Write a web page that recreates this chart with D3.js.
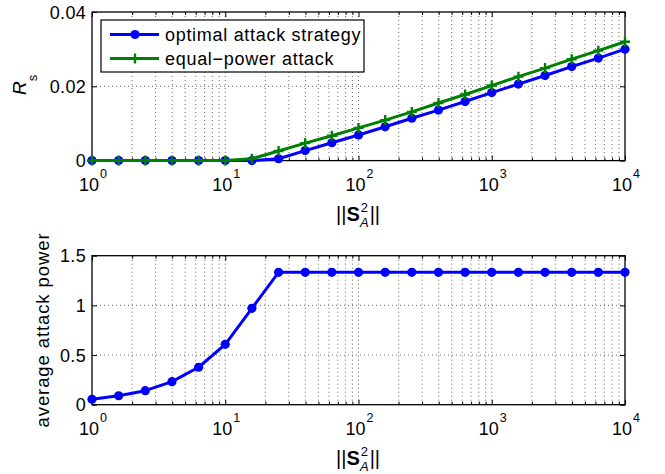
<!DOCTYPE html>
<html>
<head>
<meta charset="utf-8">
<script src="https://cdn.jsdelivr.net/npm/d3@7"></script>
<style>
  body { margin: 0; background: #fff; }
  svg { display: block; font-family: "Liberation Sans", Arial, Helvetica, sans-serif; }
</style>
</head>
<body>
<svg id="chart" width="665" height="474"></svg>
<script>
// ---- data ----
const xValues = [1, 1.585, 2.512, 3.981, 6.310, 10, 15.85, 25.12, 39.81, 63.10, 100,
                 158.5, 251.2, 398.1, 631.0, 1000, 1585, 2512, 3981, 6310, 10000];
const rsOptimal = [0, 0, 0, 0, 0, 0, 0, 0.0005, 0.0027, 0.0048, 0.0069,
                   0.0091, 0.0114, 0.0136, 0.0159, 0.0183, 0.0206, 0.0229, 0.0253, 0.0276, 0.0300];
const rsEqual   = [0, 0, 0, 0, 0, 0, 0.0005, 0.0026, 0.0047, 0.0067, 0.0088,
                   0.0109, 0.0131, 0.0155, 0.0178, 0.0202, 0.0226, 0.0249, 0.0273, 0.0296, 0.0320];
const avgPower  = [0.054, 0.090, 0.141, 0.232, 0.377, 0.608, 0.970, 1.333, 1.333, 1.333, 1.333,
                   1.333, 1.333, 1.333, 1.333, 1.333, 1.333, 1.333, 1.333, 1.333, 1.333];
const xDecades = [1, 10, 100, 1000, 10000];
const xDecadeExp = ["0", "1", "2", "3", "4"];
const rsTicks = [0, 0.02, 0.04];
const rsTickLabels = ["0", "0.02", "0.04"];
const powTicks = [0, 0.5, 1, 1.5];
const powTickLabels = ["0", "0.5", "1", "1.5"];
const legendLabels = ["optimal attack strategy", "equal\u2212power attack"];

const BLUE = "#0000ff", GREEN = "#008000";
const svg = d3.select("#chart");

const left = 92, right = 625;
const x = d3.scaleLog().domain([1, 10000]).range([left, right]);
const minorTicks = [];
for (let d = 1; d < 10000; d *= 10) for (let m = 2; m <= 9; m++) minorTicks.push(d * m);

function panel(top, bottom, yDomain, yTicks, yTickLabels) {
  const y = d3.scaleLinear().domain(yDomain).range([bottom, top]);
  const g = svg.append("g");
  // grid
  const grid = g.append("g").attr("stroke", "#444").attr("stroke-width", 0.8)
    .attr("stroke-dasharray", "1 3");
  grid.selectAll("line.vx").data(minorTicks.concat(xDecades.slice(1, -1))).join("line")
    .attr("x1", d => x(d)).attr("x2", d => x(d)).attr("y1", top).attr("y2", bottom);
  grid.selectAll("line.hy").data(yTicks.slice(1, -1)).join("line")
    .attr("x1", left).attr("x2", right).attr("y1", d => y(d)).attr("y2", d => y(d));

  // axes via d3 (inward ticks)
  const axB = g.append("g").attr("transform", `translate(0,${bottom})`)
    .call(d3.axisBottom(x).tickValues(xDecades).tickSize(-5).tickFormat(""));
  const axBm = g.append("g").attr("transform", `translate(0,${bottom})`)
    .call(d3.axisBottom(x).tickValues(minorTicks).tickSize(-3).tickFormat(""));
  const axT = g.append("g").attr("transform", `translate(0,${top})`)
    .call(d3.axisTop(x).tickValues(xDecades).tickSize(-5).tickFormat(""));
  const axTm = g.append("g").attr("transform", `translate(0,${top})`)
    .call(d3.axisTop(x).tickValues(minorTicks).tickSize(-3).tickFormat(""));
  const axL = g.append("g").attr("transform", `translate(${left},0)`)
    .call(d3.axisLeft(y).tickValues(yTicks).tickSize(-5).tickFormat(""));
  const axR = g.append("g").attr("transform", `translate(${right},0)`)
    .call(d3.axisRight(y).tickValues(yTicks).tickSize(-5).tickFormat(""));
  [axB, axBm, axT, axTm, axL, axR].forEach(a => {
    a.select(".domain").remove();
    a.selectAll("line").attr("stroke", "#000").attr("stroke-width", 1);
  });
  g.append("rect").attr("x", left).attr("y", top).attr("width", right - left)
    .attr("height", bottom - top).attr("fill", "none").attr("stroke", "#000").attr("stroke-width", 1.3);

  // y tick labels
  g.selectAll("text.yt").data(yTicks).join("text")
    .attr("x", left - 6).attr("y", d => y(d) + 6.5).attr("text-anchor", "end")
    .attr("font-size", 18).attr("letter-spacing", 0.3).attr("fill", "#000").text((d, i) => yTickLabels[i]);
  // x tick labels 10^k
  const xl = g.selectAll("text.xt").data(xDecades).join("text")
    .attr("x", d => x(d) - 13).attr("y", bottom + 30).attr("font-size", 18).attr("fill", "#000");
  xl.append("tspan").text("10");
  xl.append("tspan").attr("dy", -13).attr("dx", 1).attr("font-size", 12.5).text((d, i) => xDecadeExp[i]);

  // x axis label ||S_A^2||
  const lab = g.append("text").attr("x", 336).attr("y", bottom + 60).attr("font-size", 20).attr("fill", "#000");
  lab.append("tspan").text("||");
  lab.append("tspan").attr("font-weight", "bold").text("S");
  lab.append("tspan").attr("font-size", 13).attr("dy", -9).attr("dx", 1).text("2");
  lab.append("tspan").attr("font-size", 13).attr("font-style", "italic").attr("dy", 15).attr("dx", -8).text("A");
  lab.append("tspan").attr("dy", -6).attr("dx", 1).text("||");
  return y;
}

// ---- top panel ----
const yTop = panel(12, 160.6, [0, 0.04], rsTicks, rsTickLabels);
const line1 = d3.line().x((d, i) => x(xValues[i])).y(d => yTop(d));
svg.append("path").datum(rsOptimal).attr("d", line1).attr("fill", "none")
  .attr("stroke", BLUE).attr("stroke-width", 3).attr("stroke-linejoin", "round");
svg.append("g").selectAll("circle").data(rsOptimal).join("circle")
  .attr("cx", (d, i) => x(xValues[i])).attr("cy", d => yTop(d)).attr("r", 4.6).attr("fill", BLUE);
svg.append("path").datum(rsEqual).attr("d", line1).attr("fill", "none")
  .attr("stroke", GREEN).attr("stroke-width", 3).attr("stroke-linejoin", "round");
svg.append("g").selectAll("path").data(rsEqual).join("path")
  .attr("transform", (d, i) => `translate(${x(xValues[i])},${yTop(d)})`)
  .attr("d", "M-5,0H5M0,-5V5").attr("stroke", GREEN).attr("stroke-width", 2.4).attr("fill", "none");

// y label R_s
const rl = svg.append("text").attr("transform", "translate(26,95) rotate(-90)")
  .attr("font-size", 19).attr("fill", "#000");
rl.append("tspan").attr("font-style", "italic").text("R");
rl.append("tspan").attr("font-size", 13).attr("dy", 11).attr("dx", 0).text("s");

// legend
const lg = svg.append("g");
lg.append("rect").attr("x", 101).attr("y", 20).attr("width", 263).attr("height", 52)
  .attr("fill", "#fff").attr("stroke", "#000").attr("stroke-width", 1.2);
const legendRows = [
  { label: legendLabels[0], color: BLUE, marker: "circle", y: 34.5 },
  { label: legendLabels[1], color: GREEN, marker: "plus", y: 58.5 }
];
legendRows.forEach(r => {
  lg.append("line").attr("x1", 110).attr("x2", 159).attr("y1", r.y).attr("y2", r.y)
    .attr("stroke", r.color).attr("stroke-width", 3);
  if (r.marker === "circle") lg.append("circle").attr("cx", 135).attr("cy", r.y).attr("r", 4.6).attr("fill", r.color);
  else lg.append("path").attr("transform", `translate(135,${r.y})`).attr("d", "M-5,0H5M0,-5V5")
    .attr("stroke", r.color).attr("stroke-width", 2.4);
  lg.append("text").attr("x", 165).attr("y", r.y + 6.5).attr("font-size", 18)
    .attr("letter-spacing", 0.7).attr("fill", "#000").text(r.label);
});

// ---- bottom panel ----
const yBot = panel(255.7, 404.7, [0, 1.5], powTicks, powTickLabels);
const line2 = d3.line().x((d, i) => x(xValues[i])).y(d => yBot(d));
svg.append("path").datum(avgPower).attr("d", line2).attr("fill", "none")
  .attr("stroke", BLUE).attr("stroke-width", 3).attr("stroke-linejoin", "round");
svg.append("g").selectAll("circle").data(avgPower).join("circle")
  .attr("cx", (d, i) => x(xValues[i])).attr("cy", d => yBot(d)).attr("r", 4.6).attr("fill", BLUE);

svg.append("text").attr("transform", "translate(49,330) rotate(-90)").attr("text-anchor", "middle")
  .attr("font-size", 18.5).attr("letter-spacing", 0.9).attr("fill", "#000").text("average attack power");
</script>
</body>
</html>
